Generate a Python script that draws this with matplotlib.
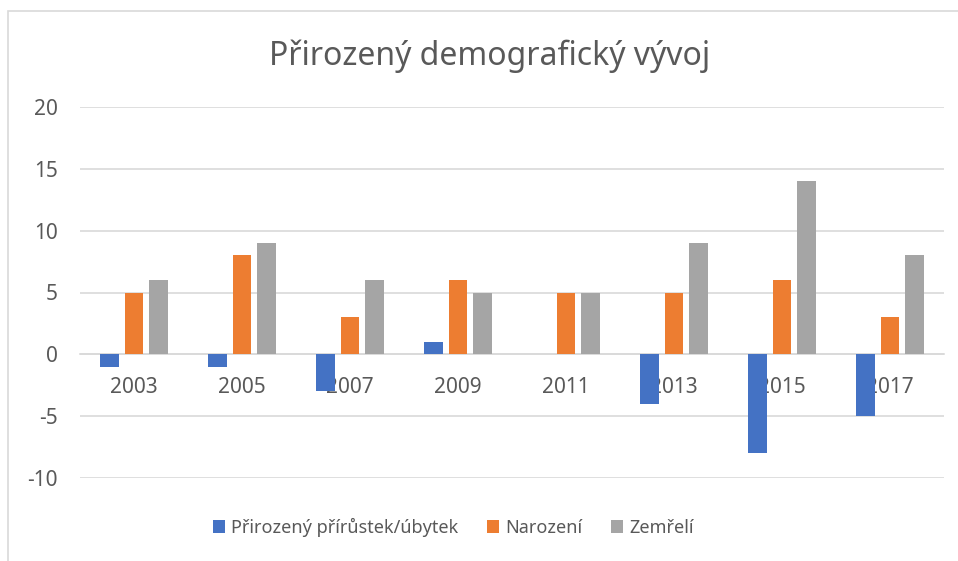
import matplotlib.pyplot as plt
import numpy as np
from matplotlib.patches import Rectangle

years = ['2003', '2005', '2007', '2009', '2011', '2013', '2015', '2017']
prirustek = [-1, -1, -3, 1, 0, -4, -8, -5]
narozeni = [5, 8, 3, 6, 5, 5, 6, 3]
zemreli = [6, 9, 6, 5, 5, 9, 14, 8]
series_names = ['Přirozený přírůstek/úbytek', 'Narození', 'Zemřelí']
colors = ['#4472C4', '#ED7D31', '#A5A5A5']

plt.rcParams['font.family'] = ['Noto Sans', 'DejaVu Sans']
plt.rcParams['axes.unicode_minus'] = False
text_col = '#595959'

fig = plt.figure(figsize=(9.58, 5.61), dpi=100)
ax = fig.add_axes([80 / 958, 1 - 478 / 561, 864 / 958, 371 / 561])

# chart area border (cropped on right/bottom)
fig.patches.append(Rectangle((8 / 958, -0.1), 1.2, 1 - 11 / 561 + 0.1,
                             transform=fig.transFigure, fill=False,
                             edgecolor='#D9D9D9', linewidth=1.2))

x = np.arange(len(years))
w = 0.172
step = 0.227
for i, vals in enumerate([prirustek, narozeni, zemreli]):
    ax.bar(x + (i - 1) * step, vals, width=w, color=colors[i],
           label=series_names[i], zorder=3)

ax.set_xlim(-0.5, len(years) - 0.5)
ax.set_ylim(-10, 20)
ax.set_yticks(range(-10, 21, 5))
ax.yaxis.grid(True, color='#D9D9D9', linewidth=1.2, zorder=0)
ax.tick_params(axis='y', length=0, pad=16, labelsize=15, labelcolor=text_col)
for s in ['top', 'right', 'left']:
    ax.spines[s].set_visible(False)
ax.spines['bottom'].set_position(('data', 0))
ax.spines['bottom'].set_color('#D9D9D9')
ax.spines['bottom'].set_linewidth(1.2)
ax.set_xticks(x)
ax.set_xticklabels(years)
ax.tick_params(axis='x', length=0, pad=16, labelsize=15, labelcolor=text_col)

fig.text(490 / 958, 1 - 56 / 561, 'Přirozený demografický vývoj',
         ha='center', va='center', fontsize=23, color=text_col)

leg = ax.legend(loc='center', bbox_to_anchor=(453 / 958, 1 - 527 / 561),
                bbox_transform=fig.transFigure, ncol=3, frameon=False,
                fontsize=13, handlelength=0.7, handleheight=0.7,
                handletextpad=0.3, columnspacing=1.6)
for t in leg.get_texts():
    t.set_color(text_col)

fig.savefig('out.png', dpi=100)
